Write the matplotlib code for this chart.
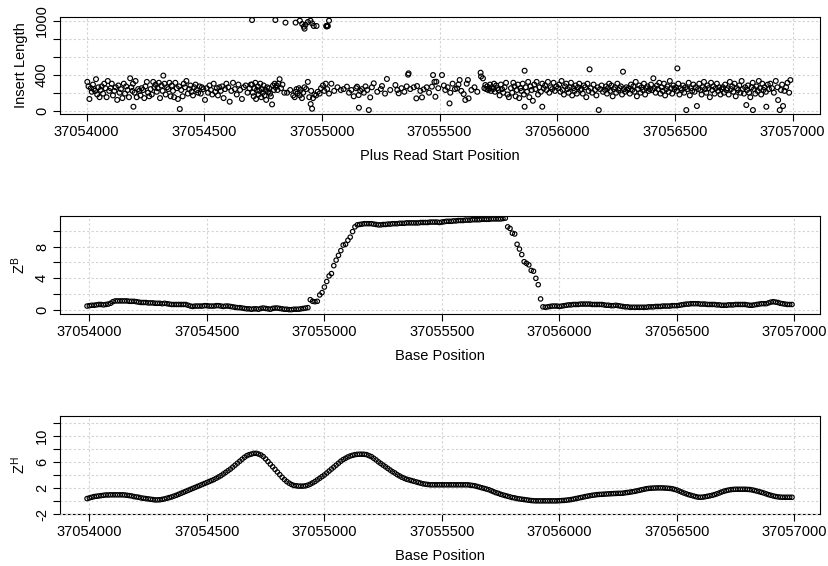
import numpy as np
import matplotlib
matplotlib.use("Agg")
import matplotlib.pyplot as plt
from matplotlib.ticker import FixedLocator, FixedFormatter

plt.rcParams['font.family'] = ['Liberation Sans', 'DejaVu Sans']

# ---- panel 1: insert length of plus reads (offset from 37054000) ----
read_offset = [
    3, 8, 12, 18, 22, 27, 31, 36, 40, 45, 50, 55, 60, 64, 70, 75, 80, 85, 90, 96,
    102, 107, 112, 118, 124, 130, 135, 140, 146, 152, 158, 163, 168, 174, 180, 185, 190, 195, 199, 197,
    204, 208, 213, 219, 224, 229, 234, 240, 245, 250, 256, 261, 266, 272, 277, 283, 288, 293, 298,
    302, 307, 312, 318, 323, 326, 331, 336, 342, 347, 352, 357, 362, 367, 372, 377, 383, 388, 393, 396,
    402, 408, 413, 418, 424, 430, 436, 441, 446, 452, 457, 463, 468, 474, 480, 485, 490, 496,
    503, 510, 516, 522, 528, 534, 540, 547, 553, 558, 564, 570, 576, 582, 588, 594,
    602, 608, 615, 622, 630, 638, 645, 652, 660, 668, 676, 684, 692, 698,
    703, 706, 710, 713, 717, 720, 724, 727, 731, 734, 738, 742, 745, 749, 752, 756, 760, 763, 767, 771,
    775, 779, 783, 788, 792, 796, 799,
    803, 807, 811, 815, 820, 826, 832, 840, 852, 865, 878, 884, 888, 892, 896,
    902, 906, 910, 915, 920, 926, 933, 940, 946, 952, 954, 958, 962, 968, 975, 982, 990, 996,
    1004, 1010, 1016, 1022, 1030, 1040, 1052, 1066, 1080, 1092,
    1106, 1115, 1125, 1135, 1145, 1149, 1156, 1157, 1163, 1170, 1178, 1185, 1192, 1199,
    1205, 1212, 1220, 1235, 1250, 1255, 1268, 1276, 1290,
    1312, 1320, 1326, 1338, 1350, 1360, 1366, 1368, 1375, 1390,
    1401, 1404, 1418, 1425, 1432, 1445, 1455, 1467, 1472, 1478, 1482, 1486, 1494,
    1510, 1518, 1524, 1534, 1542, 1545, 1555, 1565, 1574, 1580, 1585, 1592,
    1602, 1609, 1615, 1620, 1623, 1635, 1648, 1660, 1674, 1676, 1684, 1690, 1694, 1698,
    1702, 1706, 1710, 1714, 1718, 1722, 1727, 1731, 1735, 1740, 1745, 1750, 1755, 1760, 1765, 1770,
    1776, 1782, 1788, 1794,
    1803, 1808, 1813, 1818, 1823, 1828, 1833, 1838, 1843, 1848, 1853, 1858, 1861, 1861, 1866, 1871,
    1876, 1881, 1886, 1891, 1896,
    1902, 1907, 1912, 1918, 1924, 1930, 1936, 1936, 1942, 1948, 1954, 1960, 1966, 1972, 1978, 1984, 1990, 1996,
    2003, 2008, 2013, 2018, 2023, 2028, 2033, 2038, 2043, 2048, 2053, 2058, 2063, 2068, 2073, 2078,
    2083, 2088, 2093, 2098,
    2103, 2108, 2113, 2118, 2123, 2128, 2133, 2137, 2142, 2148, 2154, 2160, 2166, 2172, 2176, 2182, 2188, 2194,
    2203, 2207, 2211, 2215, 2220, 2225, 2230, 2235, 2240, 2245, 2250, 2255, 2260, 2265, 2270, 2275,
    2279, 2283, 2288, 2293, 2298,
    2303, 2308, 2313, 2318, 2323, 2328, 2333, 2338, 2343, 2348, 2353, 2358, 2363, 2368, 2373, 2378,
    2383, 2388, 2393, 2398,
    2403, 2408, 2413, 2418, 2423, 2428, 2433, 2438, 2443, 2448, 2453, 2458, 2463, 2468, 2473, 2478,
    2483, 2488, 2493, 2498,
    2503, 2508, 2510, 2514, 2519, 2524, 2529, 2534, 2539, 2544, 2548, 2553, 2558, 2563, 2568, 2573,
    2578, 2583, 2588, 2593, 2598,
    2603, 2608, 2613, 2618, 2623, 2628, 2633, 2638, 2643, 2648, 2653, 2658, 2663, 2668, 2673, 2678,
    2683, 2688, 2693, 2698,
    2703, 2708, 2713, 2718, 2723, 2728, 2733, 2738, 2743, 2748, 2753, 2758, 2763, 2768, 2773, 2778,
    2783, 2788, 2793, 2798,
    2803, 2806, 2810, 2815, 2820, 2825, 2830, 2831, 2836, 2841, 2846, 2851, 2856, 2861, 2866, 2871,
    2876, 2881, 2886, 2888, 2894, 2899,
    2905, 2912, 2920, 2928, 2935, 2938, 2945, 2950, 2955, 2959, 2965, 2972, 2978, 2985, 2990,
    # long inserts
    703, 802, 845, 888, 906, 916, 923, 926, 951, 958, 965, 977, 1018, 1020, 1022, 1025, 1030, 940, 930,
]
read_len = [
    320, 270, 130, 250, 210, 290, 240, 220, 350, 180, 260, 150, 230, 270, 190, 300, 250, 150, 330, 220,
    250, 300, 170, 220, 260, 120, 280, 200, 240, 140, 300, 190, 270, 230, 150, 360, 260, 220, 44, 300,
    200, 330, 150, 240, 220, 170, 250, 230, 140, 270, 320, 200, 160, 240, 180, 320, 260, 290, 210,
    250, 310, 140, 280, 220, 390, 300, 180, 260, 240, 310, 160, 280, 220, 150, 310, 250, 130, 270, 19,
    230, 160, 300, 260, 330, 190, 240, 280, 210, 170, 260, 290, 230, 200, 270, 190, 260, 240,
    120, 250, 200, 280, 230, 180, 300, 210, 250, 170, 260, 220, 270, 140, 240, 300,
    260, 100, 220, 310, 240, 180, 290, 230, 130, 260, 280, 200, 250, 290,
    290, 200, 160, 250, 310, 130, 230, 270, 180, 220, 300, 150, 240, 200, 280, 170, 230, 120, 260, 210,
    250, 190, 160, 70, 280, 230, 300,
    260, 280, 230, 300, 350, 250, 290, 200, 200, 230, 170, 150, 210, 240, 190,
    250, 170, 230, 140, 200, 260, 240, 320, 150, 74, 220, 22, 140, 180, 170, 210, 190, 250,
    280, 220, 300, 240, 190, 300, 220, 260, 230, 240,
    267, 200, 230, 160, 250, 267, 174, 33, 220, 240, 200, 270, 230, 7,
    148, 260, 304, 210, 240, 274, 190, 352, 230,
    285, 230, 193, 250, 210, 270, 400, 415, 240, 260,
    137, 274, 220, 148, 237, 260, 200, 267, 396, 320, 155, 322, 250,
    396, 280, 230, 260, 81, 200, 300, 240, 248, 290, 341, 220,
    185, 119, 300, 341, 137, 230, 260, 210, 422, 380, 359, 250, 285, 240,
    270, 230, 250, 290, 220, 260, 240, 300, 210, 280, 250, 230, 170, 290, 240, 200,
    260, 310, 180, 150,
    250, 200, 310, 270, 160, 230, 290, 140, 250, 220, 300, 180, 444, 44, 260, 210,
    320, 150, 270, 230, 110,
    290, 240, 320, 180, 260, 210, 44, 300, 250, 280, 230, 320, 200, 260, 240, 310, 220, 270,
    250, 290, 210, 330, 230, 180, 270, 300, 240, 200, 260, 310, 170, 250, 220, 280,
    190, 260, 300, 230,
    240, 190, 280, 260, 150, 300, 220, 459, 250, 200, 290, 230, 170, 260, 7, 240, 280, 210,
    230, 270, 190, 250, 300, 220, 280, 160, 240, 260, 200, 300, 230, 250, 270, 180,
    433, 240, 210, 260, 230,
    250, 190, 290, 230, 270, 210, 320, 160, 240, 280, 200, 260, 230, 300, 180, 250,
    270, 220, 240, 290,
    230, 360, 250, 200, 280, 240, 310, 190, 260, 220, 300, 170, 240, 270, 210, 330,
    250, 190, 280, 240,
    260, 220, 470, 300, 180, 250, 230, 280, 200, 260, 7, 240, 310, 170, 250, 220,
    290, 210, 260, 52, 240,
    300, 230, 180, 260, 320, 240, 200, 280, 250, 150, 310, 230, 270, 190, 250, 300,
    220, 260, 180, 240,
    260, 200, 290, 230, 250, 180, 320, 240, 270, 210, 300, 160, 250, 230, 280, 200,
    330, 240, 190, 260,
    63, 230, 280, 200, 150, 260, 310, 7, 240, 190, 270, 220, 330, 250, 180, 300,
    230, 260, 210, 44, 290, 240,
    300, 250, 200, 330, 260, 118, 7, 230, 290, 52, 220, 260, 310, 200, 340,
    # long inserts
    1007, 1007, 978, 978, 1000, 963, 933, 911, 1000, 970, 941, 941, 941, 935, 945, 940, 1000, 985, 955,
]
read_start = 37054000 + np.array(read_offset)

# ---- panels 2 and 3: statistics along base positions (every 10 bp) ----
base_pos = np.arange(37053990, 37057000, 10)
z_b = [
    0.5, 0.55, 0.6, 0.6, 0.65, 0.7, 0.7, 0.65, 0.7, 0.75,
    0.85, 1.05, 1.15, 1.15, 1.15, 1.15, 1.15, 1.15, 1.1, 1.1,
    1.1, 1.05, 1.0, 0.95, 0.95, 0.95, 0.9, 0.9, 0.9, 0.85,
    0.85, 0.85, 0.8, 0.85, 0.8, 0.75, 0.7, 0.7, 0.7, 0.7,
    0.7, 0.7, 0.7, 0.6, 0.5, 0.45, 0.5, 0.5, 0.5, 0.5,
    0.55, 0.55, 0.5, 0.5, 0.5, 0.55, 0.55, 0.5, 0.45, 0.5,
    0.5, 0.45, 0.4, 0.35, 0.3, 0.3, 0.25, 0.2, 0.15, 0.15,
    0.1, 0.15, 0.15, 0.1, 0.2, 0.25, 0.2, 0.15, 0.1, 0.2,
    0.25, 0.25, 0.2, 0.15, 0.1, 0.1, 0.05, 0.05, 0.1, 0.1,
    0.1, 0.15, 0.2, 0.25, 0.3, 1.3, 1.1, 1.05, 1.1, 1.9,
    2.2, 2.9, 3.6, 4.3, 4.6, 5.6, 6.3, 6.9, 7.5, 8.2,
    8.3, 8.8, 9.2, 9.9, 10.5, 10.75, 10.8, 10.85, 10.9, 10.9,
    10.9, 10.9, 10.85, 10.8, 10.75, 10.75, 10.8, 10.8, 10.85, 10.85,
    10.9, 10.9, 10.9, 10.95, 10.95, 10.95, 11.0, 11.0, 11.0, 11.0,
    11.0, 11.0, 11.05, 11.05, 11.05, 11.05, 11.1, 11.1, 11.1, 11.1,
    11.05, 11.1, 11.15, 11.2, 11.2, 11.2, 11.25, 11.25, 11.3, 11.3,
    11.3, 11.35, 11.35, 11.35, 11.4, 11.4, 11.4, 11.4, 11.45, 11.45,
    11.45, 11.45, 11.5, 11.5, 11.5, 11.5, 11.5, 11.55, 11.6, 10.5,
    10.3, 9.7, 9.6, 8.3, 7.7, 7.0, 6.1, 5.9, 5.7, 5.0,
    4.9, 4.0, 3.2, 1.4, 0.4, 0.35, 0.4, 0.45, 0.5, 0.5,
    0.5, 0.45, 0.5, 0.55, 0.6, 0.65, 0.65, 0.7, 0.7, 0.7,
    0.75, 0.75, 0.75, 0.75, 0.75, 0.7, 0.7, 0.7, 0.7, 0.7,
    0.65, 0.6, 0.6, 0.55, 0.55, 0.6, 0.55, 0.5, 0.45, 0.4,
    0.4, 0.35, 0.35, 0.35, 0.35, 0.35, 0.35, 0.35, 0.35, 0.4,
    0.4, 0.4, 0.45, 0.45, 0.45, 0.5, 0.5, 0.5, 0.5, 0.55,
    0.55, 0.55, 0.6, 0.65, 0.7, 0.75, 0.75, 0.8, 0.8, 0.8,
    0.8, 0.75, 0.75, 0.75, 0.7, 0.7, 0.7, 0.7, 0.65, 0.65,
    0.6, 0.6, 0.6, 0.65, 0.65, 0.65, 0.7, 0.7, 0.7, 0.7,
    0.7, 0.65, 0.6, 0.6, 0.65, 0.7, 0.75, 0.8, 0.8, 0.8,
    0.9, 1.0, 1.05, 1.0, 0.95, 0.85, 0.8, 0.75, 0.7, 0.7,
    0.7,
]
z_h = [
    0.4, 0.5, 0.6, 0.7, 0.75, 0.8, 0.85, 0.9, 0.95, 0.95,
    0.97, 0.97, 0.97, 0.97, 0.97, 0.97, 0.95, 0.9, 0.85, 0.8,
    0.7, 0.65, 0.6, 0.5, 0.45, 0.4, 0.35, 0.3, 0.25, 0.2,
    0.2, 0.22, 0.28, 0.35, 0.45, 0.55, 0.65, 0.78, 0.9, 1.05,
    1.2, 1.35, 1.5, 1.65, 1.8, 1.95, 2.1, 2.25, 2.4, 2.55,
    2.7, 2.85, 3.0, 3.15, 3.3, 3.5, 3.7, 3.9, 4.15, 4.4,
    4.65, 4.9, 5.2, 5.5, 5.8, 6.1, 6.4, 6.7, 6.95, 7.1,
    7.2, 7.3, 7.3, 7.2, 7.05, 6.8, 6.45, 6.05, 5.65, 5.25,
    4.85, 4.45, 4.05, 3.65, 3.3, 3.0, 2.75, 2.55, 2.4, 2.35,
    2.3, 2.3, 2.3, 2.35, 2.45, 2.6, 2.8, 3.0, 3.25, 3.5,
    3.75, 4.0, 4.3, 4.6, 4.9, 5.2, 5.5, 5.8, 6.1, 6.35,
    6.55, 6.75, 6.9, 7.0, 7.1, 7.15, 7.17, 7.17, 7.15, 7.1,
    6.95, 6.8, 6.55, 6.3, 6.0, 5.75, 5.5, 5.25, 5.0, 4.75,
    4.5, 4.3, 4.05, 3.85, 3.65, 3.5, 3.35, 3.25, 3.15, 3.05,
    2.95, 2.85, 2.75, 2.65, 2.6, 2.55, 2.5, 2.5, 2.5, 2.5,
    2.5, 2.5, 2.5, 2.5, 2.5, 2.5, 2.5, 2.5, 2.5, 2.5,
    2.5, 2.5, 2.5, 2.45, 2.4, 2.35, 2.25, 2.15, 2.05, 1.95,
    1.85, 1.75, 1.6, 1.45, 1.3, 1.2, 1.05, 0.95, 0.85, 0.75,
    0.65, 0.55, 0.5, 0.4, 0.35, 0.3, 0.25, 0.2, 0.15, 0.1,
    0.07, 0.05, 0.05, 0.05, 0.05, 0.05, 0.05, 0.05, 0.05, 0.05,
    0.05, 0.08, 0.1, 0.12, 0.16, 0.2, 0.25, 0.32, 0.4, 0.47,
    0.55, 0.62, 0.7, 0.77, 0.84, 0.9, 0.95, 1.0, 1.03, 1.05,
    1.07, 1.1, 1.12, 1.14, 1.16, 1.18, 1.2, 1.2, 1.22, 1.28,
    1.33, 1.38, 1.44, 1.5, 1.58, 1.66, 1.74, 1.82, 1.9, 1.95,
    1.98, 2.0, 2.02, 2.03, 2.03, 2.02, 2.0, 1.98, 1.95, 1.9,
    1.8, 1.7, 1.55, 1.4, 1.25, 1.12, 1.0, 0.9, 0.8, 0.7,
    0.62, 0.6, 0.62, 0.68, 0.75, 0.82, 0.9, 1.0, 1.12, 1.25,
    1.4, 1.52, 1.62, 1.7, 1.76, 1.8, 1.82, 1.82, 1.82, 1.82,
    1.82, 1.8, 1.78, 1.72, 1.64, 1.55, 1.45, 1.35, 1.25, 1.12,
    1.0, 0.9, 0.8, 0.72, 0.66, 0.62, 0.6, 0.6, 0.6, 0.6,
    0.6,
]

x_ticks = [37054000, 37054500, 37055000, 37055500, 37056000, 37056500, 37057000]

W, H = 829, 566
fig = plt.figure(figsize=(W / 100, H / 100), dpi=100)


def make_axes(top_px, bottom_px):
    return fig.add_axes([60 / W, 1 - bottom_px / H, 760 / W, (bottom_px - top_px) / H])


def style(ax, xlim, ylim, yticks, ylabels, ylabel, xlabel):
    ax.set_xlim(*xlim)
    ax.set_ylim(*ylim)
    ax.xaxis.set_major_locator(FixedLocator(x_ticks))
    ax.xaxis.set_major_formatter(FixedFormatter([str(t) for t in x_ticks]))
    ax.yaxis.set_major_locator(FixedLocator(yticks))
    ax.yaxis.set_major_formatter(FixedFormatter(ylabels))
    ax.tick_params(direction='out', length=5, width=0.8, labelsize=10.5, colors='black', pad=3)
    for lab in ax.get_yticklabels():
        lab.set_rotation(90)
        lab.set_va('center')
    ax.grid(True, color='#d3d3d3', linestyle=(0, (2, 2)), linewidth=0.8)
    ax.set_axisbelow(True)
    for s in ax.spines.values():
        s.set_linewidth(0.8)
        s.set_color('black')
    ax.set_ylabel(ylabel, fontsize=10.5, labelpad=5)
    ax.set_xlabel(xlabel, fontsize=10.5, labelpad=7)


# panel 1
ax1 = make_axes(16.7, 114.3)
ax1.scatter(read_start, read_len, s=12, facecolors='none', edgecolors='black', linewidths=0.85)
style(ax1, (37053887, 37057116), (-40, 1044), [0, 200, 400, 600, 800, 1000],
      ['0', '', '400', '', '', '1000'], 'Insert Length', 'Plus Read Start Position')

# panel 2
ax2 = make_axes(216, 314.3)
ax2.scatter(base_pos, z_b, s=10, facecolors='none', edgecolors='black', linewidths=0.85)
style(ax2, (37053875, 37057109), (-0.54, 11.87), [0, 2, 4, 6, 8, 10],
      ['0', '', '4', '', '8', ''], r'$\mathregular{Z^B}$', 'Base Position')

# panel 3
ax3 = make_axes(416, 514.3)
ax3.scatter(base_pos, z_h, s=10, facecolors='none', edgecolors='black', linewidths=0.85)
style(ax3, (37053875, 37057109), (-2, 13), [-2, 0, 2, 4, 6, 8, 10, 12],
      ['-2', '', '2', '', '6', '', '10', ''], r'$\mathregular{Z^H}$', 'Base Position')
ax3.axhline(-2, color='#d3d3d3', linestyle=(0, (2, 2)), linewidth=0.9, zorder=5, clip_on=False)

fig.savefig('out.png', dpi=100)
